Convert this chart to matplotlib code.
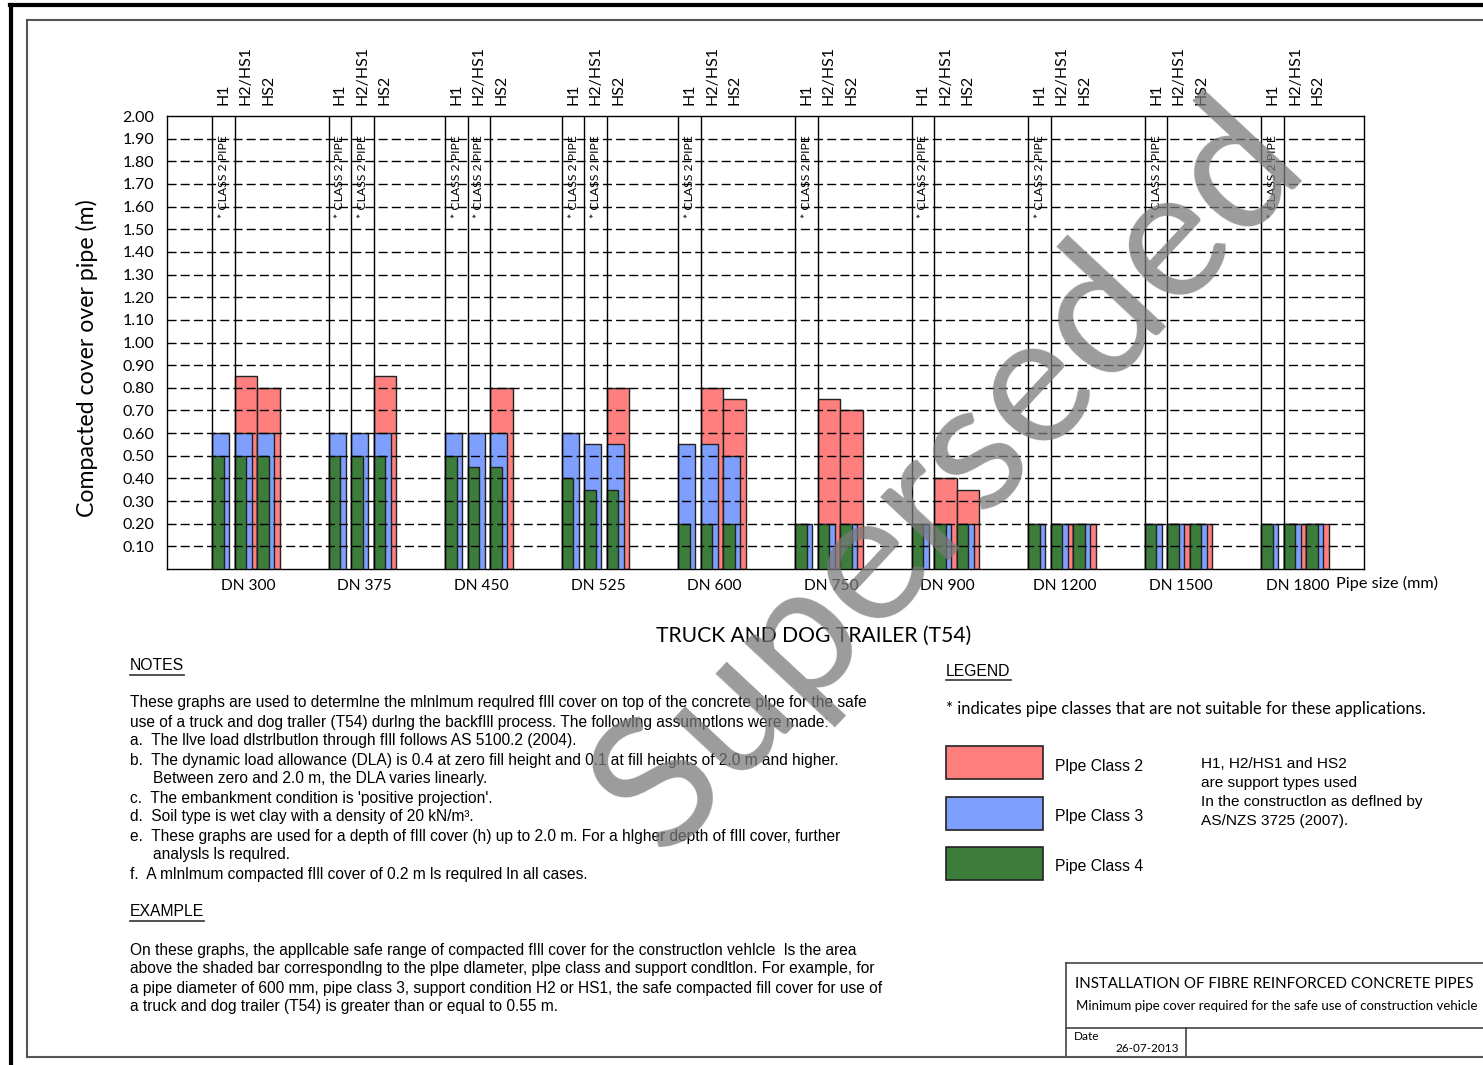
import numpy as np
import matplotlib
matplotlib.use("Agg")
from matplotlib import pyplot as plt
from matplotlib.lines import Line2D
from matplotlib.patches import Rectangle

# chart data (m of compacted cover)
pipe_sizes = ["DN 300", "DN 375", "DN 450", "DN 525", "DN 600",
              "DN 750", "DN 900", "DN 1200", "DN 1500", "DN 1800"]
supports = ["H1", "H2/HS1", "HS2"]
# None = class not suitable (marked "* CLASS 2 PIPE")
class2 = [[None, 0.85, 0.80], [None, None, 0.85], [None, None, 0.80],
          [None, None, 0.80], [None, 0.80, 0.75], [None, 0.75, 0.70],
          [None, 0.40, 0.35], [None, 0.20, 0.20], [None, 0.20, 0.20],
          [None, 0.20, 0.20]]
class3 = [[0.60, 0.60, 0.60], [0.60, 0.60, 0.60], [0.60, 0.60, 0.60],
          [0.60, 0.55, 0.55], [0.55, 0.55, 0.50], [0.20, 0.20, 0.20],
          [0.20, 0.20, 0.20], [0.20, 0.20, 0.20], [0.20, 0.20, 0.20],
          [0.20, 0.20, 0.20]]
class4 = [[0.50, 0.50, 0.50], [0.50, 0.50, 0.50], [0.50, 0.45, 0.45],
          [0.40, 0.35, 0.35], [0.20, 0.20, 0.20], [0.20, 0.20, 0.20],
          [0.20, 0.20, 0.20], [0.20, 0.20, 0.20], [0.20, 0.20, 0.20],
          [0.20, 0.20, 0.20]]
yticks = np.round(np.arange(0.1, 2.01, 0.1), 2)

RED = "#ff7f7f"
BLUE = "#7f9fff"
GREEN = "#3d7d3b"
EDGE = "#222222"
CAL = ["Lato", "DejaVu Sans"]
ARIAL = ["Liberation Sans", "DejaVu Sans"]

W, H = 1483, 1065


def fx(x):
    return x / W


def fy(y):
    return 1 - y / H


fig = plt.figure(figsize=(W / 100, H / 100), dpi=100)
ax = fig.add_axes([fx(167), fy(569), (1364 - 167) / W, (569 - 116) / H])

unit = 116.6  # px per group
sub = 22.5 / unit
w2, w3, w4 = 22.5 / unit, 17 / unit, 11.5 / unit
starts = 0.386 + np.arange(len(pipe_sizes))

vlines = set()
for i, s in enumerate(starts):
    for j in range(3):
        x = s + j * sub
        if class2[i][j] is not None:
            ax.bar(x, class2[i][j], width=w2, align="edge", color=RED,
                   edgecolor=EDGE, lw=1, zorder=2)
        else:
            vlines.add(round(x, 4))
            vlines.add(round(x + sub, 4))
            ax.text(x + sub / 2, 1.55, "* CLASS 2 PIPE", rotation=90,
                    ha="center", va="bottom", fontsize=8.8, family=CAL,
                    zorder=6)
        ax.bar(x, class3[i][j], width=w3, align="edge", color=BLUE,
               edgecolor=EDGE, lw=1, zorder=3)
        ax.bar(x, class4[i][j], width=w4, align="edge", color=GREEN,
               edgecolor=EDGE, lw=1, zorder=4)
        ax.text(x + sub / 2, 2.05, supports[j], rotation=90, ha="center",
                va="bottom", fontsize=11.5, family=CAL, clip_on=False)

ax.vlines(sorted(vlines), 0, 2.0, color="black", lw=1, zorder=5)
for yv in yticks[:-1]:
    ax.axhline(yv, color="black", lw=1, ls=(0, (6.5, 3)), zorder=5)

ax.set_xlim(0, 1197 / unit)
ax.set_ylim(0, 2.0)
ax.set_yticks(yticks)
ax.set_yticklabels([f"{v:.2f}" for v in yticks], family=CAL, fontsize=11.5)
ax.set_xticks(starts + 0.31)
ax.set_xticklabels(pipe_sizes, family=CAL, fontsize=11.2)
ax.tick_params(length=0)
ax.tick_params(axis="y", pad=9)
ax.tick_params(axis="x", pad=7)
for sp in ax.spines.values():
    sp.set_color("black")
    sp.set_linewidth(1)

fig.text(fx(1336), fy(583), "Pipe size (mm)", ha="left", va="center",
         fontsize=11.7, family=CAL)
fig.text(fx(87), fy(358), "Compacted cover over pipe (m)", rotation=90,
         ha="center", va="center", fontsize=16.7, family=CAL)
fig.text(fx(814), fy(636), "TRUCK AND DOG TRAILER (T54)", ha="center",
         va="center", fontsize=15.2, family=CAL)


def line(x0, y0, x1, y1, color="black", lw=1.0):
    fig.add_artist(Line2D([fx(x0), fx(x1)], [fy(y0), fy(y1)],
                          transform=fig.transFigure, color=color, lw=lw))


def heading(x, y, s, width):
    fig.text(fx(x), fy(y), s, ha="left", va="center", fontsize=11.3,
             family=ARIAL)
    line(x, y + 9, x + width, y + 9, color="#333333", lw=1.2)


# notes
heading(130, 666, "NOTES", 54)
notes = [
    (130, "These graphs are used to determlne the mlnlmum requlred fIll cover on top of the concrete plpe for the safe"),
    (130, "use of a truck and dog traller (T54) durlng the backfIll process. The followlng assumptlons were made:"),
    (130, "a.  The llve load dlstrlbutlon through fIll follows AS 5100.2 (2004)."),
    (130, "b.  The dynamic load allowance (DLA) is 0.4 at zero fill height and 0.1 at fill heights of 2.0 m and higher."),
    (153, "Between zero and 2.0 m, the DLA varies linearly."),
    (130, "c.  The embankment condition is 'positive projection'."),
    (130, "d.  Soil type is wet clay with a density of 20 kN/m³."),
    (130, "e.  These graphs are used for a depth of fIll cover (h) up to 2.0 m. For a hlgher depth of fIll cover, further"),
    (153, "analysls ls requlred."),
    (130, "f.  A mlnlmum compacted fIll cover of 0.2 m ls requlred ln all cases."),
]
for k, (x, s) in enumerate(notes):
    fig.text(fx(x), fy(703 + 19 * k), s, ha="left", va="center",
             fontsize=11.2, family=ARIAL)

heading(130, 912, "EXAMPLE", 74)
example = [
    "On these graphs, the appllcable safe range of compacted fIll cover for the constructlon vehlcle  ls the area",
    "above the shaded bar correspondlng to the plpe dlameter, plpe class and support condltlon. For example, for",
    "a pipe diameter of 600 mm, pipe class 3, support condition H2 or HS1, the safe compacted fill cover for use of",
    "a truck and dog trailer (T54) is greater than or equal to 0.55 m.",
]
for k, s in enumerate(example):
    fig.text(fx(130), fy(950 + 19 * k), s, ha="left", va="center",
             fontsize=11.2, family=ARIAL)

# legend
heading(946, 671, "LEGEND", 65)
fig.text(fx(946), fy(709), "* indicates pipe classes that are not suitable for these applications.",
         ha="left", va="center", fontsize=11.9, family=CAL)
legend_items = [(RED, "Plpe Class 2", 746), (BLUE, "Plpe Class 3", 797),
                (GREEN, "Pipe Class 4", 847)]
for col, lab, top in legend_items:
    fig.add_artist(Rectangle((fx(946), fy(top + 33)), 97 / W, 33 / H,
                             transform=fig.transFigure, facecolor=col,
                             edgecolor=EDGE, lw=1.2))
    fig.text(fx(1055), fy(top + 20), lab, ha="left", va="center",
             fontsize=11.3, family=ARIAL)
support_note = ["H1, H2/HS1 and HS2", "are support types used",
                "In the constructlon as deflned by", "AS/NZS 3725 (2007)."]
for k, s in enumerate(support_note):
    fig.text(fx(1201), fy(764 + 19 * k), s, ha="left", va="center",
             fontsize=11.1, family=ARIAL)

# title block
line(1066, 963, 1483, 963, color="#444444", lw=1.2)
line(1066, 963, 1066, 1057, color="#444444", lw=1.2)
line(1066, 1028, 1483, 1028, color="#444444", lw=1.2)
line(1186, 1028, 1186, 1057, color="#444444", lw=1.2)
fig.text(fx(1075), fy(984), "INSTALLATION OF FIBRE REINFORCED CONCRETE PIPES",
         ha="left", va="center", fontsize=10.8, family=CAL)
fig.text(fx(1076), fy(1006), "Minimum pipe cover required for the safe use of construction vehicle",
         ha="left", va="center", fontsize=9.5, family=CAL)
fig.text(fx(1074), fy(1037), "Date", ha="left", va="center", fontsize=8.5,
         family=CAL)
fig.text(fx(1116), fy(1048), "26-07-2013", ha="left", va="center",
         fontsize=8.5, family=CAL)

# page frame
line(10, 5, 1483, 5, lw=3)
line(11, 5, 11, 1065, lw=3)
line(27, 20, 1483, 20, color="#555555", lw=1.5)
line(27, 20, 27, 1057, color="#555555", lw=1.5)
line(27, 1057, 1483, 1057, color="#555555", lw=1.5)

# watermark
fig.text(fx(950), fy(476), "Superseded", rotation=47, rotation_mode="anchor",
         ha="center", va="center", fontsize=132, color="#7a7a7a", alpha=0.75,
         family=CAL, zorder=20)

fig.savefig("out.png", dpi=100)
